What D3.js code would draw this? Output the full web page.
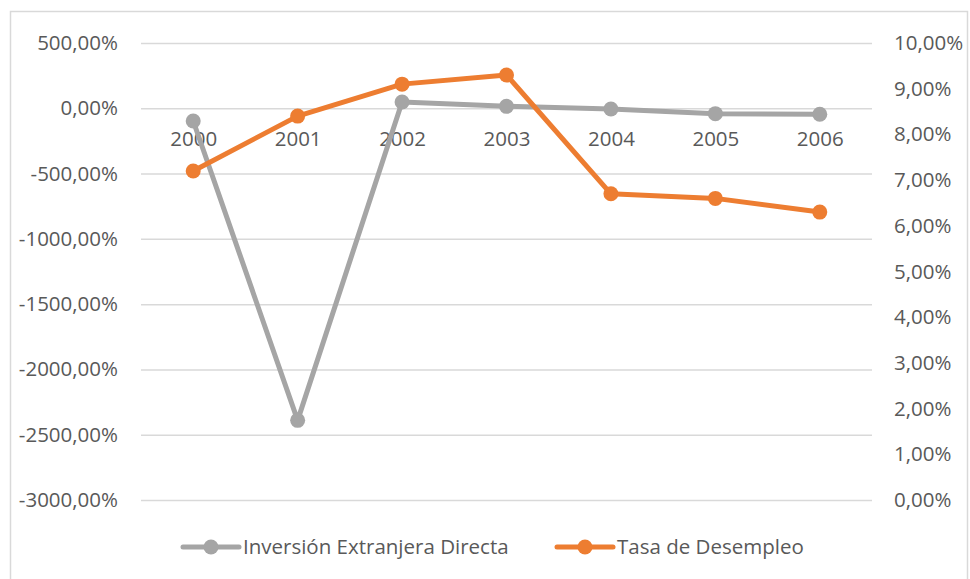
<!DOCTYPE html>
<html>
<head>
<meta charset="utf-8">
<script src="https://cdn.jsdelivr.net/npm/d3@7"></script>
<style>
  body { margin: 0; background: #fff; }
  svg text { font-family: "Open Sans", sans-serif; fill: #595959; }
</style>
</head>
<body>
<div id="chart"></div>
<script>
// data
const years = ["2000", "2001", "2002", "2003", "2004", "2005", "2006"];
const inversion = [-97, -2390, 48, 15, -5, -41, -46];      // left axis, %
const desempleo = [7.2, 8.4, 9.1, 9.3, 6.7, 6.6, 6.3];     // right axis, %
const leftTicks = [500, 0, -500, -1000, -1500, -2000, -2500, -3000];
const rightTicks = [0, 1, 2, 3, 4, 5, 6, 7, 8, 9, 10];
const seriesNames = ["Inversión Extranjera Directa", "Tasa de Desempleo"];
const colors = ["#A5A5A5", "#ED7D31"];

const width = 970, height = 579;
const plot = {left: 141, right: 872, top: 43, bottom: 500};

const svg = d3.select("#chart").append("svg")
    .attr("width", width)
    .attr("height", height);

// chart border
svg.append("rect")
    .attr("x", 10.5).attr("y", 11.5)
    .attr("width", 957).attr("height", 600)
    .attr("fill", "none")
    .attr("stroke", "#D9D9D9")
    .attr("stroke-width", 1.5);

// spanish style numbers, plain hyphen for the minus sign
const es = d3.formatLocale({decimal: ",", thousands: "", grouping: [3], currency: ["", ""], minus: "-"});
const pct = v => es.format(".2f")(v) + "%";

const x = d3.scalePoint()
    .domain(years)
    .range([plot.left, plot.right])
    .padding(0.5);

const yL = d3.scaleLinear().domain([-3000, 500]).range([plot.bottom, plot.top]);
const yR = d3.scaleLinear().domain([0, 10]).range([plot.bottom, plot.top]);

// gridlines
svg.append("g")
    .attr("class", "grid")
    .attr("transform", `translate(${plot.left},0)`)
    .call(d3.axisLeft(yL).tickValues(leftTicks).tickSize(-(plot.right - plot.left)).tickFormat(""))
    .call(g => g.select(".domain").remove())
    .call(g => g.selectAll("line").attr("stroke", "#D9D9D9").attr("stroke-width", 1.5));

// left axis labels
svg.append("g")
    .attr("transform", `translate(${plot.left},0)`)
    .call(d3.axisLeft(yL).tickValues(leftTicks).tickSize(0).tickPadding(23).tickFormat(pct))
    .call(g => g.select(".domain").remove())
    .call(g => g.selectAll("text").attr("font-size", 20.5).attr("fill", "#595959"));

// right axis labels
svg.append("g")
    .attr("transform", `translate(${plot.right},0)`)
    .call(d3.axisRight(yR).tickValues(rightTicks).tickSize(0).tickPadding(22).tickFormat(v => pct(v)))
    .call(g => g.select(".domain").remove())
    .call(g => g.selectAll("text").attr("font-size", 20.5).attr("fill", "#595959"));

// category labels sit just under the zero line
svg.append("g")
    .attr("transform", `translate(0,${yL(0)})`)
    .call(d3.axisBottom(x).tickSize(0).tickPadding(23))
    .call(g => g.select(".domain").remove())
    .call(g => g.selectAll("text").attr("font-size", 20.5).attr("fill", "#595959"));

// series
const series = [
    {name: seriesNames[0], values: inversion, y: yL, color: colors[0]},
    {name: seriesNames[1], values: desempleo, y: yR, color: colors[1]}
];

series.forEach(s => {
    const line = d3.line()
        .x((d, i) => x(years[i]))
        .y(d => s.y(d));

    svg.append("path")
        .datum(s.values)
        .attr("fill", "none")
        .attr("stroke", s.color)
        .attr("stroke-width", 5)
        .attr("stroke-linejoin", "round")
        .attr("d", line);

    svg.append("g")
        .selectAll("circle")
        .data(s.values)
        .join("circle")
        .attr("cx", (d, i) => x(years[i]))
        .attr("cy", d => s.y(d))
        .attr("r", 7.5)
        .attr("fill", s.color);
});

// legend
const legendX = [183, 557];
const legendY = 547;
const legend = svg.append("g");
series.forEach((s, i) => {
    const g = legend.append("g").attr("transform", `translate(${legendX[i]},${legendY})`);
    g.append("line")
        .attr("x1", 0).attr("x2", 56)
        .attr("stroke", s.color)
        .attr("stroke-width", 5)
        .attr("stroke-linecap", "round");
    g.append("circle")
        .attr("cx", 28).attr("r", 7.5)
        .attr("fill", s.color);
    g.append("text")
        .attr("x", 60)
        .attr("dy", "0.35em")
        .attr("font-size", 20.5)
        .text(s.name);
});
</script>
</body>
</html>
